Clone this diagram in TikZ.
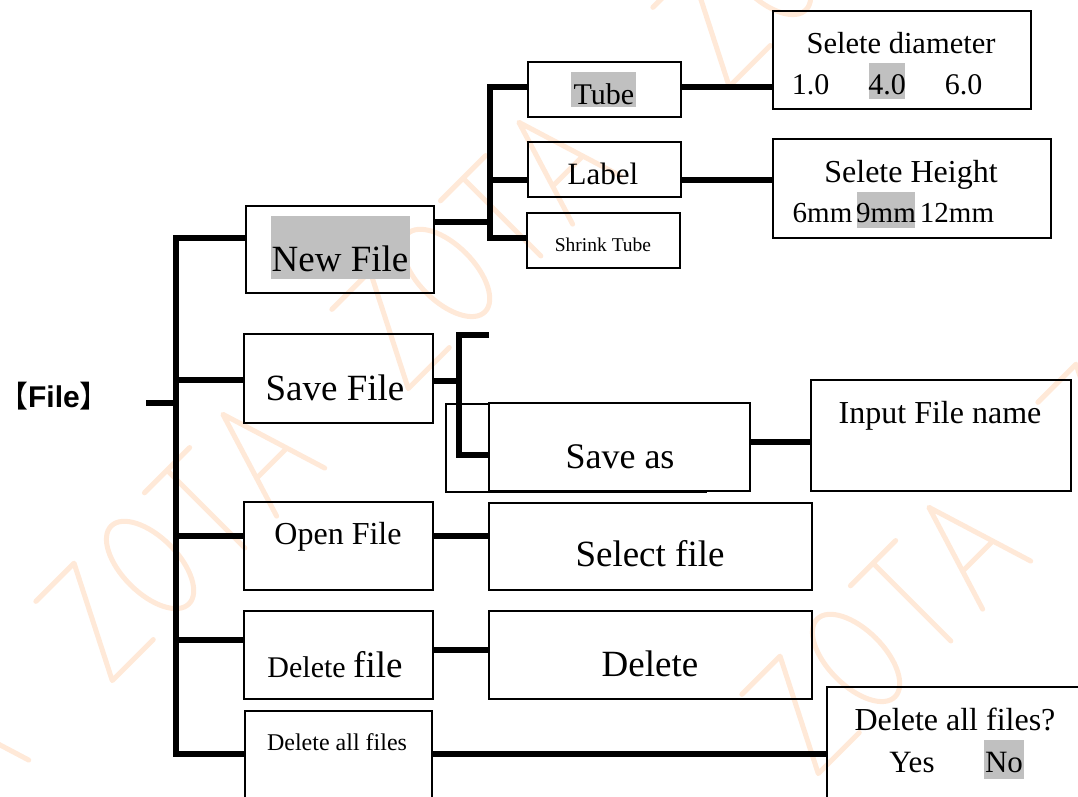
\documentclass[tikz,border=0pt]{standalone}
\usepackage{fontspec}
\setmainfont{Liberation Serif}
\setsansfont{Liberation Sans}
\newfontfamily\cjkfont{Noto Sans CJK SC}
\definecolor{wmcol}{RGB}{255,233,216}
\definecolor{hlgray}{RGB}{192,192,192}
\newcommand{\fsz}[1]{\fontsize{#1}{#1}\selectfont}
\tikzset{
  box/.style={draw=black, line width=1.5pt, inner sep=0pt, outer sep=0pt},
  conn/.style={draw=black, line width=5.5pt, line join=miter},
  hl/.style={fill=hlgray},
  lbl/.style={anchor=base, inner sep=0pt, outer sep=0pt},
  wm/.style={draw=wmcol, line width=5pt, line cap=round, line join=round}
}
\newcommand{\zotamark}[1]{%
  \begin{scope}[shift={#1},rotate=45]
    \draw[wm] (-146,-55) -- (-92,-55) -- (-148,55) -- (-90,55);
    \draw[wm] (-39.5,0) ellipse [x radius=28, y radius=55];
    \draw[wm] (7.5,-55) -- (71.5,-55) (39.5,-55) -- (39.5,55);
    \draw[wm] (84.5,55) -- (118.5,-55) -- (152.5,55) (97,14) -- (140,14);
  \end{scope}}
\begin{document}
\begin{tikzpicture}[x=1pt,y=-1pt]
\useasboundingbox (0,0) rectangle (1078,796);
\clip (0,0) rectangle (1078,796);
\fill[white] (0,0) rectangle (1078,796);

% watermark
\zotamark{(178,537)}
\zotamark{(474,245)}
\zotamark{(884,630)}
\zotamark{(1180,338)}
\zotamark{(795,-57)}
\zotamark{(-118,829)}

% highlights
\fill[hl] (271,216) rectangle (410,279);
\fill[hl] (571,72) rectangle (636,107);
\fill[hl] (869,63) rectangle (905,99);
\fill[hl] (857,192) rectangle (915,228);
\fill[hl] (984,740) rectangle (1024,779);

% boxes
\node[box, minimum width=188pt, minimum height=87pt] (nf) at (340,249.5) {};
\node[box, minimum width=189pt, minimum height=89pt] (sf) at (338.5,378.5) {};
\node[box, minimum width=189pt, minimum height=88pt] (of) at (338.5,546) {};
\node[box, minimum width=189pt, minimum height=88pt] (df) at (338.5,655) {};
\node[box, minimum width=187pt, minimum height=109pt] (da) at (338.5,765.5) {};
\node[box, minimum width=153pt, minimum height=55pt] (tube) at (604.5,89.5) {};
\node[box, minimum width=153pt, minimum height=55pt] (label) at (604.5,169.5) {};
\node[box, minimum width=153pt, minimum height=55pt] (shrink) at (603.5,240.5) {};
\node[box, minimum width=258pt, minimum height=98pt] (diam) at (902,60) {};
\node[box, minimum width=278pt, minimum height=99pt] (height) at (912,188.5) {};
\draw[draw=black, line width=1.2pt] (489,404) -- (446,404) -- (446,492) -- (707,492);
\node[box, minimum width=261pt, minimum height=88pt] (saveas) at (619.5,447) {};
\node[box, minimum width=260pt, minimum height=111pt] (input) at (941,435.5) {};
\node[box, minimum width=323pt, minimum height=87pt] (select) at (650.5,546.5) {};
\node[box, minimum width=323pt, minimum height=88pt] (del) at (650.5,655) {};
\node[box, minimum width=273pt, minimum height=133pt] (daq) at (963.5,753.5) {};

% texts
\node[lbl] (tfile) at (54,407) {\fsz{30}{\cjkfont 【}{\sffamily\bfseries File}{\cjkfont 】}};
\node[lbl] (tnf) at (340,271) {\fsz{37}New File};
\node[lbl] (tsf) at (335,400) {\fsz{37}Save File};
\node[lbl] (tof) at (338,544) {\fsz{32}Open File};
\node[lbl] (tdf) at (335,677) {\fsz{30}Delete \fsz{37}file};
\node[lbl] (tda) at (337,750) {\fsz{24}Delete all files};
\node[lbl] (ttube) at (604,104) {\fsz{30}Tube};
\node[lbl] (tlabel) at (603,184) {\fsz{31}Label};
\node[lbl] (tshrink) at (603,251) {\fsz{19.5}Shrink Tube};
\node[lbl] (tdiam) at (901,53) {\fsz{30.5}Selete diameter};
\node[lbl] (t10) at (810.5,94) {\fsz{30}1.0};
\node[lbl] (t40) at (887,94) {\fsz{30}4.0};
\node[lbl] (t60) at (963.5,94) {\fsz{30}6.0};
\node[lbl] (theight) at (911,182) {\fsz{32}Selete Height};
\node[lbl] (t6) at (822.5,222) {\fsz{29}6mm};
\node[lbl] (t9) at (886,222) {\fsz{29}9mm};
\node[lbl] (t12) at (957,222) {\fsz{29}12mm};
\node[lbl] (tsaveas) at (620,468) {\fsz{36}Save as};
\node[lbl] (tinput) at (940,423) {\fsz{32}Input File name};
\node[lbl] (tselect) at (650,566) {\fsz{37}Select file};
\node[lbl] (tdel) at (650,676) {\fsz{37}Delete};
\node[lbl] (tdaq) at (955,730) {\fsz{32}Delete all files?};
\node[lbl] (tyes) at (912,772) {\fsz{31}Yes};
\node[lbl] (tno) at (1004,772) {\fsz{31}No};

% main trunk
\coordinate (fstub) at (146,403);
\coordinate (tr0) at (176,403);
\coordinate (trtop) at (176,238);
\coordinate (trbot) at (176,754);
\coordinate (b2) at (176,380);
\coordinate (b3) at (176,536);
\coordinate (b4) at (176,640);
\draw[conn] (fstub) -- (tr0);
\draw[conn] (nf.west |- trtop) -- (trtop) -- (trbot) -- (da.west |- trbot);
\draw[conn] (b2) -- (sf.west |- b2);
\draw[conn] (b3) -- (of.west |- b3);
\draw[conn] (b4) -- (df.west |- b4);
\draw[conn] (da.east |- trbot) -- (daq.west |- trbot);

% new file subtree
\coordinate (n1) at (490,222);
\coordinate (ntop) at (490,87);
\coordinate (nmid) at (490,180);
\coordinate (nbot) at (490,238);
\draw[conn] (nf.east |- n1) -- (n1);
\draw[conn] (tube.west |- ntop) -- (ntop) -- (nbot) -- (shrink.west |- nbot);
\draw[conn] (nmid) -- (label.west |- nmid);
\draw[conn] (tube.east |- ntop) -- (diam.west |- ntop);
\draw[conn] (label.east |- nmid) -- (height.west |- nmid);

% save subtree
\coordinate (s1) at (459,381);
\coordinate (stop) at (459,335);
\coordinate (stopend) at (489,335);
\coordinate (sbot) at (459,455);
\coordinate (s2) at (750,442);
\draw[conn] (sf.east |- s1) -- (s1);
\draw[conn] (stopend) -- (stop) -- (sbot) -- (saveas.west |- sbot);
\draw[conn] (saveas.east |- s2) -- (input.west |- s2);

% open / delete
\coordinate (d1) at (433,650);
\draw[conn] (of.east |- b3) -- (select.west |- b3);
\draw[conn] (df.east |- d1) -- (del.west |- d1);
\end{tikzpicture}
\end{document}
